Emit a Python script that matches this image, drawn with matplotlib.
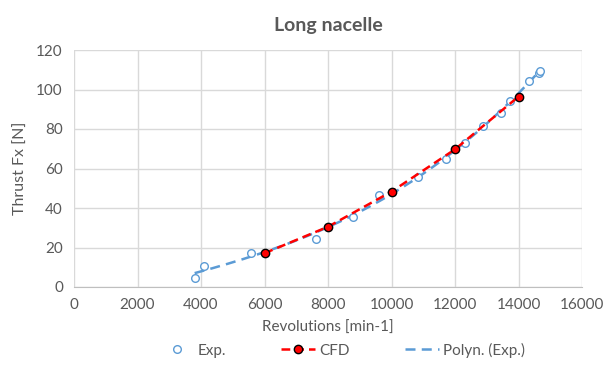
import matplotlib
matplotlib.use("Agg")
import matplotlib.pyplot as plt
import numpy as np

exp_rev = [3800, 4110, 5570, 7630, 8790, 9620, 10820, 11710, 12320, 12870, 13460, 13740, 14345, 14640, 14670]
exp_thrust = [4.7, 10.6, 17.1, 24.3, 35.6, 46.8, 55.8, 64.7, 73.0, 81.5, 88.3, 94.3, 104.5, 108.6, 109.6]

# CFD points
cfd_rev = [6000, 8000, 10000, 12000, 14000]
cfd_thrust = [17.1, 30.5, 48.3, 69.7, 96.4]

x_ticks = list(range(0, 16001, 2000))
y_ticks = list(range(0, 121, 20))

GRAY_TXT = "#595959"
BLUE = "#5B9BD5"

plt.rcParams.update({"font.family": ["Lato", "DejaVu Sans"], "font.size": 11})

fig = plt.figure(figsize=(6.03, 3.87), dpi=100)
ax = fig.add_axes([74 / 603, 1 - 287 / 387, (582 - 74) / 603, (287 - 50) / 387])

ax.plot(exp_rev, exp_thrust, linestyle="none", marker="o", markersize=5.5,
        markerfacecolor="white", markeredgecolor=BLUE, markeredgewidth=1.0,
        label="Exp.", zorder=3)
ax.plot(cfd_rev, cfd_thrust, color="red", linestyle=(0, (3.5, 2)), linewidth=1.8,
        marker="o", markersize=6, markerfacecolor="red", markeredgecolor="black",
        markeredgewidth=1.0, label="CFD", zorder=4)

# polynomial trendline of the experimental data
coef = np.polyfit(exp_rev, exp_thrust, 3)
xs = np.linspace(min(exp_rev), max(exp_rev), 200)
ax.plot(xs, np.polyval(coef, xs), color=BLUE, linestyle=(0, (4, 2.5)), linewidth=1.8,
        label="Polyn. (Exp.)", zorder=2)

ax.set_xlim(0, 16000)
ax.set_ylim(0, 120)
ax.set_xticks(x_ticks)
ax.set_yticks(y_ticks)
ax.grid(True, color="#D9D9D9", linewidth=1.0)
ax.set_axisbelow(True)
for s in ["top", "right", "left"]:
    ax.spines[s].set_visible(False)
ax.spines["bottom"].set_color("#BFBFBF")
ax.tick_params(length=0, colors=GRAY_TXT, labelsize=11, pad=8)

ax.set_xlabel("Revolutions [min-1]", color=GRAY_TXT, fontsize=11, labelpad=6)
ax.set_ylabel("Thrust Fx [N]", color=GRAY_TXT, fontsize=11.5, labelpad=6)
ax.set_title("Long nacelle", color=GRAY_TXT, fontsize=14, fontweight="bold", pad=14)

leg = fig.legend(loc="center", bbox_to_anchor=(0.568, 1 - 350 / 387), ncol=3,
                 frameon=False, fontsize=11, columnspacing=3.6, handlelength=2.2,
                 handletextpad=0.3)
for t in leg.get_texts():
    t.set_color(GRAY_TXT)

fig.savefig("out.png", dpi=100)
